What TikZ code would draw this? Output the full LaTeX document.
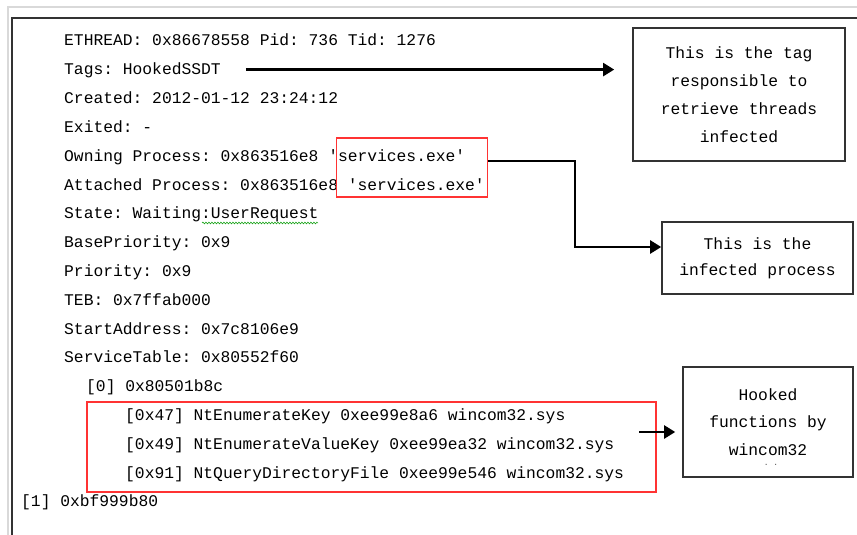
\documentclass[tikz,border=0pt]{standalone}
\usepackage{fontspec}
\setmonofont{Liberation Mono}
\usetikzlibrary{arrows.meta,positioning,decorations.pathmorphing}

\tikzset{
  dump/.style={anchor=base west,inner sep=0pt,font=\ttfamily\fontsize{16.3}{20}\selectfont,text=black},
  notebox/.style={draw=black!80,line width=1.6pt,align=center,inner sep=0pt,font=\ttfamily\fontsize{16.3}{27.8}\selectfont,text=black},
  redbox/.style={draw=red!80,line width=1.6pt,inner sep=0pt},
  arr/.style={-{Triangle[length=11pt,width=13pt]},line width=2.2pt}
}

\begin{document}
\begin{tikzpicture}[x=1pt,y=-1pt]
		\useasboundingbox (0,0) rectangle (857,535);
		% window frame
		\draw[black!15,line width=1.2pt] (8,535) -- (8,7) -- (857,7);
		\draw[black!80,line width=1.8pt] (12,535) -- (12,18) -- (857,18);
		% thread dump
		\node[dump] (eth) at (64,46) {ETHREAD: 0x86678558 Pid: 736 Tid: 1276};
		\node[dump] (tags) at (64,74.8) {Tags: HookedSSDT};
		\node[dump] (created) at (64,103.6) {Created: 2012-01-12 23:24:12};
		\node[dump] (exited) at (64,132.4) {Exited: -};
		\node[dump] (owning) at (64,161.2) {Owning Process: 0x863516e8 'services.exe'};
		\node[dump] (attached) at (64,190) {Attached Process: 0x863516e8 'services.exe'};
		\node[dump] (state) at (64,218.8) {State: Waiting:UserRequest};
		\node[dump] (basepri) at (64,247.6) {BasePriority: 0x9};
		\node[dump] (pri) at (64,276.4) {Priority: 0x9};
		\node[dump] (teb) at (64,305.2) {TEB: 0x7ffab000};
		\node[dump] (start) at (64,334) {StartAddress: 0x7c8106e9};
		\node[dump] (svc) at (64,362.8) {ServiceTable: 0x80552f60};
		\node[dump] (st0) at (86,391.6) {[0] 0x80501b8c};
		\node[dump] (k47) at (125,420.4) {[0x47] NtEnumerateKey 0xee99e8a6 wincom32.sys};
		\node[dump] (k49) at (125,449.2) {[0x49] NtEnumerateValueKey 0xee99ea32 wincom32.sys};
		\node[dump] (k91) at (125,478) {[0x91] NtQueryDirectoryFile 0xee99e546 wincom32.sys};
		\node[dump] (st1) at (21,506.8) {[1] 0xbf999b80};
		\draw[green!60!black,line width=0.5pt,decorate,decoration={snake,amplitude=0.9pt,segment length=3pt}] (202,223) -- (318,223);
		% highlights
		\node[redbox,minimum width=151pt,minimum height=59pt] (procbox) at (412,167.5) {};
		\node[redbox,minimum width=569pt,minimum height=90pt] (funcbox) at (371.5,447) {};
		% notes
		\node[notebox,minimum width=212pt,minimum height=133pt] (tagbox) at (739,94.5) {This is the tag\\responsible to\\retrieve threads\\infected};
		\node[notebox,minimum width=191pt,minimum height=72pt,font=\ttfamily\fontsize{16.3}{26}\selectfont] (infbox) at (757.5,258) {This is the\\infected process};
		\node[notebox,minimum width=170pt,minimum height=110pt] (hookbox) at (768,422) {Hooked\\functions by\\wincom32};
		\node[inner sep=0pt,font=\ttfamily\fontsize{8}{8}\selectfont,text=black!70] (hookdots) at (771,465) {. .};
		% arrows
		\draw[arr,shorten <=25pt,shorten >=18pt] ([yshift=1pt]tags.east) -- ([yshift=1pt]tags.east -| tagbox.west);
		\coordinate (bend) at (575,247);
		\draw[arr] ([yshift=6.5pt]procbox.east) -| (bend) -- (bend -| infbox.west);
		\coordinate (a3) at (639,432);
		\draw[arr,shorten >=7pt] (a3) -- (a3 -| hookbox.west);
	\end{tikzpicture}
\end{document}
